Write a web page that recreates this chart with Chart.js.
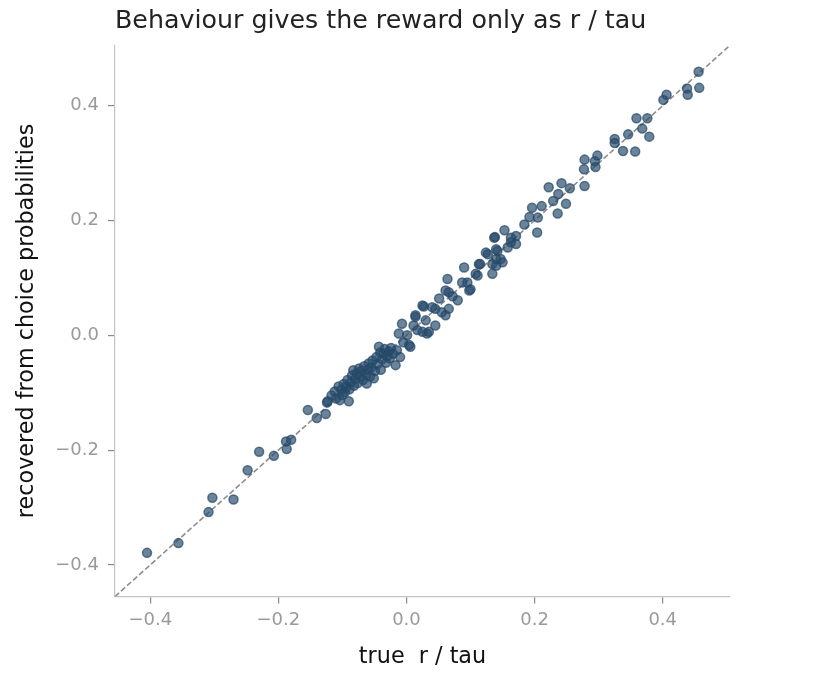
<!DOCTYPE html>
<html>
<head>
<meta charset="utf-8">
<script src="https://cdn.jsdelivr.net/npm/chart.js@4.4.1/dist/chart.umd.min.js"></script>
<style>
  html, body { margin: 0; padding: 0; background: #fff; }
  #wrap { width: 836px; height: 675px; }
</style>
</head>
<body>
<div id="wrap"><canvas id="scatter-chart" width="836" height="675"></canvas></div>
<script>
// true r / tau for each simulated agent
const trueRatio = [
  -0.405, -0.356, -0.309, -0.303, -0.270, -0.248, -0.230, -0.207, -0.188, -0.180,
  -0.187, -0.154, -0.140, -0.126, -0.124,
  -0.123, -0.117, -0.112, -0.110, -0.106, -0.104, -0.102, -0.100, -0.098, -0.096,
  -0.094, -0.092, -0.090, -0.089, -0.087, -0.085, -0.083, -0.082, -0.080, -0.078,
  -0.076, -0.074, -0.072, -0.070, -0.068, -0.066, -0.064, -0.062, -0.060, -0.059,
  -0.057, -0.055, -0.053, -0.051, -0.049, -0.047, -0.045, -0.043, -0.041, -0.040,
  -0.038, -0.036, -0.034, -0.032, -0.030, -0.028, -0.026, -0.024, -0.021, -0.017,
  -0.015, -0.012, -0.010, -0.007, -0.005, 0.001, 0.004, 0.006,
  0.011, 0.014, 0.014, 0.017, 0.025, 0.025, 0.027, 0.030, 0.032, 0.035,
  0.040, 0.045, 0.045, 0.051, 0.055, 0.061, 0.061, 0.064, 0.066, 0.066,
  0.072, 0.080, 0.087, 0.090, 0.095, 0.098, 0.100, 0.108, 0.111, 0.113,
  0.115, 0.124, 0.127, 0.134, 0.134, 0.137, 0.138, 0.140, 0.140, 0.140,
  0.142, 0.147, 0.150, 0.153, 0.158, 0.163, 0.163, 0.171, 0.171, 0.184,
  0.192, 0.196, 0.204, 0.205, 0.211, 0.222, 0.229, 0.236, 0.237, 0.242,
  0.249, 0.255, 0.277, 0.278, 0.278, 0.294, 0.295, 0.298, 0.325, 0.325,
  0.338, 0.346, 0.357, 0.359, 0.368, 0.376, 0.379, 0.401, 0.406, 0.438,
  0.439, 0.456, 0.457
];
// value recovered from the choice probabilities
const recovered = [
  -0.379, -0.362, -0.308, -0.283, -0.286, -0.235, -0.203, -0.210, -0.185, -0.182,
  -0.198, -0.130, -0.144, -0.137, -0.117,
  -0.115, -0.105, -0.098, -0.110, -0.089, -0.113, -0.095, -0.104, -0.085, -0.099,
  -0.090, -0.078, -0.115, -0.094, -0.082, -0.070, -0.061, -0.088, -0.076, -0.066,
  -0.083, -0.058, -0.072, -0.062, -0.078, -0.054, -0.068, -0.084, -0.060, -0.049,
  -0.072, -0.056, -0.044, -0.075, -0.062, -0.038, -0.050, -0.020, -0.030, -0.060,
  -0.042, -0.032, -0.024, -0.048, -0.036, -0.028, -0.040, -0.022, -0.032, -0.052,
  -0.026, 0.003, -0.038, 0.020, -0.012, 0.000, -0.017, -0.020,
  0.017, 0.032, 0.035, 0.009, 0.006, 0.052, 0.050, 0.026, 0.003, 0.006,
  0.049, 0.017, 0.046, 0.064, 0.040, 0.035, 0.078, 0.098, 0.075, 0.046,
  0.068, 0.061, 0.092, 0.118, 0.092, 0.078, 0.080, 0.107, 0.104, 0.124,
  0.124, 0.144, 0.141, 0.107, 0.124, 0.170, 0.171, 0.121, 0.133, 0.150,
  0.147, 0.133, 0.127, 0.183, 0.153, 0.162, 0.170, 0.173, 0.159, 0.193,
  0.206, 0.222, 0.179, 0.205, 0.225, 0.258, 0.234, 0.212, 0.246, 0.265,
  0.229, 0.256, 0.289, 0.306, 0.260, 0.303, 0.293, 0.313, 0.342, 0.335,
  0.321, 0.350, 0.320, 0.378, 0.360, 0.378, 0.346, 0.410, 0.419, 0.430,
  0.419, 0.459, 0.431
];

const tickValues = [-0.4, -0.2, 0.0, 0.2, 0.4];
const axisMin = -0.455;
const axisMax = 0.505;

function formatTick(v) {
  const s = Math.abs(v).toFixed(1);
  return v < -1e-9 ? '\u2212' + s : s;
}

function fixedTicks(scale) {
  scale.ticks = tickValues.map(v => ({ value: v }));
}

const points = trueRatio.map((x, i) => ({ x: x, y: recovered[i] }));
const identity = [{ x: axisMin, y: axisMin }, { x: axisMax, y: axisMax }];

const tickFont = { family: 'DejaVu Sans', size: 18 };
const titleFont = { family: 'DejaVu Sans', size: 22.3 };

const ctx = document.getElementById('scatter-chart');

new Chart(ctx, {
  type: 'scatter',
  data: {
    datasets: [
      {
        label: 'agents',
        data: points,
        pointRadius: 4.5,
        pointBorderWidth: 1.5,
        backgroundColor: 'rgba(38, 74, 106, 0.68)',
        borderColor: 'rgba(38, 74, 106, 0.72)'
      },
      {
        type: 'line',
        label: 'identity',
        data: identity,
        showLine: true,
        pointRadius: 0,
        borderColor: 'rgba(128, 128, 128, 0.9)',
        borderWidth: 1.6,
        borderDash: [5.5, 2.6],
        fill: false
      }
    ]
  },
  options: {
    responsive: false,
    animation: false,
    layout: {
      padding: { left: 0, right: 106, top: 0, bottom: 0 }
    },
    plugins: {
      legend: { display: false },
      tooltip: { enabled: false },
      title: {
        display: true,
        text: 'Behaviour gives the reward only as r / tau',
        align: 'start',
        fullSize: false,
        color: '#222',
        font: { family: 'DejaVu Sans', size: 25.3, weight: 'normal' },
        padding: { top: 6, bottom: 9 }
      }
    },
    scales: {
      x: {
        type: 'linear',
        min: axisMin,
        max: axisMax,
        afterBuildTicks: fixedTicks,
        afterFit: (scale) => { scale.height = 78.5; },
        border: { color: '#c4c4c4', width: 1.2 },
        grid: {
          drawOnChartArea: false,
          drawTicks: true,
          tickLength: 7,
          color: '#8a8a8a',
          lineWidth: 1.2
        },
        ticks: {
          color: '#9a9a9a',
          font: tickFont,
          padding: 6,
          maxRotation: 0,
          callback: formatTick
        },
        title: {
          display: true,
          text: 'true  r / tau',
          color: '#111',
          font: titleFont,
          padding: { top: 0, bottom: 4 }
        }
      },
      y: {
        type: 'linear',
        min: axisMin,
        max: axisMax,
        afterBuildTicks: fixedTicks,
        afterFit: (scale) => { scale.width = 115; },
        border: { color: '#c4c4c4', width: 1.2 },
        grid: {
          drawOnChartArea: false,
          drawTicks: true,
          tickLength: 7,
          color: '#8a8a8a',
          lineWidth: 1.2
        },
        ticks: {
          color: '#9a9a9a',
          font: tickFont,
          padding: 9,
          callback: formatTick
        },
        title: {
          display: true,
          text: 'recovered from choice probabilities',
          color: '#111',
          font: titleFont,
          padding: { top: 14, bottom: 0 }
        }
      }
    }
  }
});
</script>
</body>
</html>
